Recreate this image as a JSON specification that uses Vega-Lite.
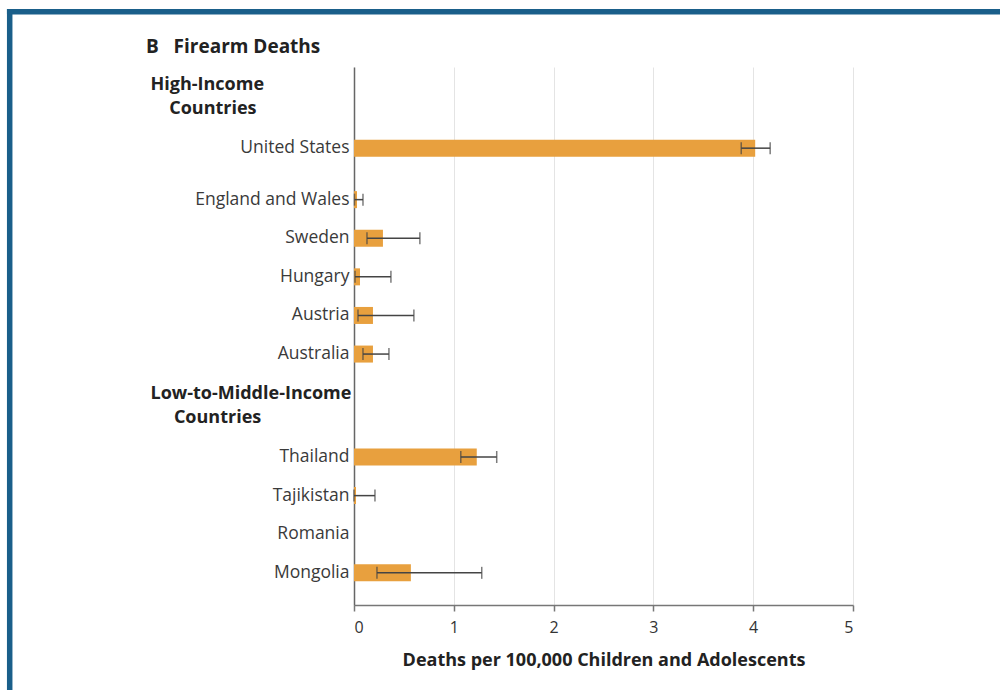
{
  "$schema": "https://vega.github.io/schema/vega-lite/v6.json",
  "width": 499,
  "height": 538,
  "autosize": {"type": "none"},
  "padding": {"left": 354, "top": 67, "right": 147, "bottom": 85},
  "background": "white",
  "config": {"view": {"stroke": null}},
  "title": {
    "text": "B\u00a0\u00a0\u00a0Firearm Deaths",
    "anchor": "start",
    "frame": "group",
    "dx": -208,
    "dy": 49,
    "offset": 0,
    "font": "Open Sans",
    "fontSize": 19,
    "fontWeight": "bold",
    "color": "#222222"
  },
  "data": {
    "values": [
      {"country": "United States", "rate": 4.02, "lo": 3.88, "hi": 4.17},
      {"country": "England and Wales", "rate": 0.03, "lo": 0.005, "hi": 0.09},
      {"country": "Sweden", "rate": 0.29, "lo": 0.13, "hi": 0.66},
      {"country": "Hungary", "rate": 0.06, "lo": 0.01, "hi": 0.37},
      {"country": "Austria", "rate": 0.19, "lo": 0.04, "hi": 0.6},
      {"country": "Australia", "rate": 0.19, "lo": 0.09, "hi": 0.35},
      {"country": "Thailand", "rate": 1.23, "lo": 1.07, "hi": 1.43},
      {"country": "Tajikistan", "rate": 0.02, "lo": 0.0, "hi": 0.21},
      {"country": "Romania", "rate": null, "lo": null, "hi": null},
      {"country": "Mongolia", "rate": 0.57, "lo": 0.23, "hi": 1.28}
    ]
  },
  "layer": [
    {
      "data": {"values": [{}]},
      "layer": [
        {
          "mark": {"type": "rule", "color": "#1a5f8a", "strokeWidth": 5.5, "strokeCap": "square"},
          "encoding": {
            "x": {"datum": 0, "type": "quantitative", "scale": {"domain": [0, 1], "range": [-344.3, 700], "nice": false, "zero": false}, "axis": null},
            "y": {"datum": 0, "type": "quantitative", "scale": {"domain": [0, 1], "range": [-55.2, 700], "nice": false, "zero": false}, "axis": null},
            "y2": {"datum": 1}
          }
        },
        {
          "mark": {"type": "rule", "color": "#1a5f8a", "strokeWidth": 5.5, "strokeCap": "square"},
          "encoding": {
            "x": {"datum": 0, "type": "quantitative"},
            "x2": {"datum": 1},
            "y": {"datum": 0, "type": "quantitative"}
          }
        }
      ]
    },
    {
      "layer": [
        {
          "mark": {"type": "bar", "color": "#e8a03e", "size": 17},
          "encoding": {
            "y": {
              "field": "country",
              "type": "nominal",
              "scale": {
                "domain": ["_1", "High-Income Countries", "_3", "_4", "_5", "United States", "_7", "_8", "_9", "England and Wales", "_11", "_12", "Sweden", "_14", "_15", "Hungary", "_17", "_18", "Austria", "_20", "_21", "Australia", "_23", "_24", "_25", "Low-to-Middle-Income Countries", "_27", "_28", "_29", "Thailand", "_31", "_32", "Tajikistan", "_34", "_35", "Romania", "_37", "_38", "Mongolia", "_40", "_41"],
                "paddingInner": 0,
                "paddingOuter": 0.4035,
                "align": 1
              },
              "axis": {
                "orient": "left",
                "title": null,
                "ticks": false,
                "grid": false,
                "domain": true,
                "domainColor": "#666666",
                "domainWidth": 1.5,
                "labelLimit": 0,
                "labelFont": "Open Sans",
                "labelLineHeight": 24,
                "labelBaseline": "middle",
                "labelExpr": "datum.value[0] == '_' ? '' : datum.value == 'High-Income Countries' ? ['High-Income', '\u200b\u00a0\u00a0\u00a0\u00a0Countries'] : datum.value == 'Low-to-Middle-Income Countries' ? ['Low-to-Middle-Income', '\u200b\u00a0\u00a0\u00a0\u00a0\u00a0Countries'] : datum.value",
                "labelAlign": {"condition": {"test": "indexof(datum.value, 'Countries') >= 0", "value": "left"}, "value": "right"},
                "labelPadding": {"condition": {"test": "indexof(datum.value, 'Countries') >= 0", "value": 204}, "value": 5},
                "labelFontWeight": {"condition": {"test": "indexof(datum.value, 'Countries') >= 0", "value": "bold"}, "value": "normal"},
                "labelFontSize": {"condition": {"test": "indexof(datum.value, 'Countries') >= 0", "value": 18}, "value": 17.5},
                "labelColor": {"condition": {"test": "indexof(datum.value, 'Countries') >= 0", "value": "#222222"}, "value": "#3a3a3a"},
                "labelOffset": {"condition": {"test": "indexof(datum.value, 'Countries') >= 0", "value": -12}, "value": 0}
              }
            },
            "x": {
              "field": "rate",
              "type": "quantitative",
              "scale": {"domain": [0, 5], "nice": false},
              "axis": {
                "orient": "bottom",
                "values": [0, 1, 2, 3, 4, 5],
                "format": "d",
                "grid": true,
                "gridColor": "#e4e4e4",
                "gridWidth": 1,
                "domainColor": "#777777",
                "domainWidth": 1.5,
                "tickColor": "#777777",
                "tickSize": 6,
                "tickWidth": 1.5,
                "labelFont": "Open Sans",
                "labelFontSize": 16,
                "labelColor": "#333333",
                "labelPadding": 8,
                "title": "Deaths per 100,000 Children and Adolescents",
                "titleFont": "Open Sans",
                "titleFontSize": 18,
                "titleFontWeight": "bold",
                "titleColor": "#222222",
                "titlePadding": 16
              }
            }
          }
        },
        {
          "mark": {"type": "rule", "color": "#444444", "strokeWidth": 1.5},
          "encoding": {
            "y": {"field": "country", "type": "nominal"},
            "x": {"field": "lo", "type": "quantitative"},
            "x2": {"field": "hi"}
          }
        },
        {
          "mark": {"type": "tick", "color": "#444444", "size": 12, "thickness": 1.5},
          "encoding": {
            "y": {"field": "country", "type": "nominal"},
            "x": {"field": "lo", "type": "quantitative"}
          }
        },
        {
          "mark": {"type": "tick", "color": "#444444", "size": 12, "thickness": 1.5},
          "encoding": {
            "y": {"field": "country", "type": "nominal"},
            "x": {"field": "hi", "type": "quantitative"}
          }
        }
      ]
    }
  ],
  "resolve": {"scale": {"x": "independent", "y": "independent"}}
}
